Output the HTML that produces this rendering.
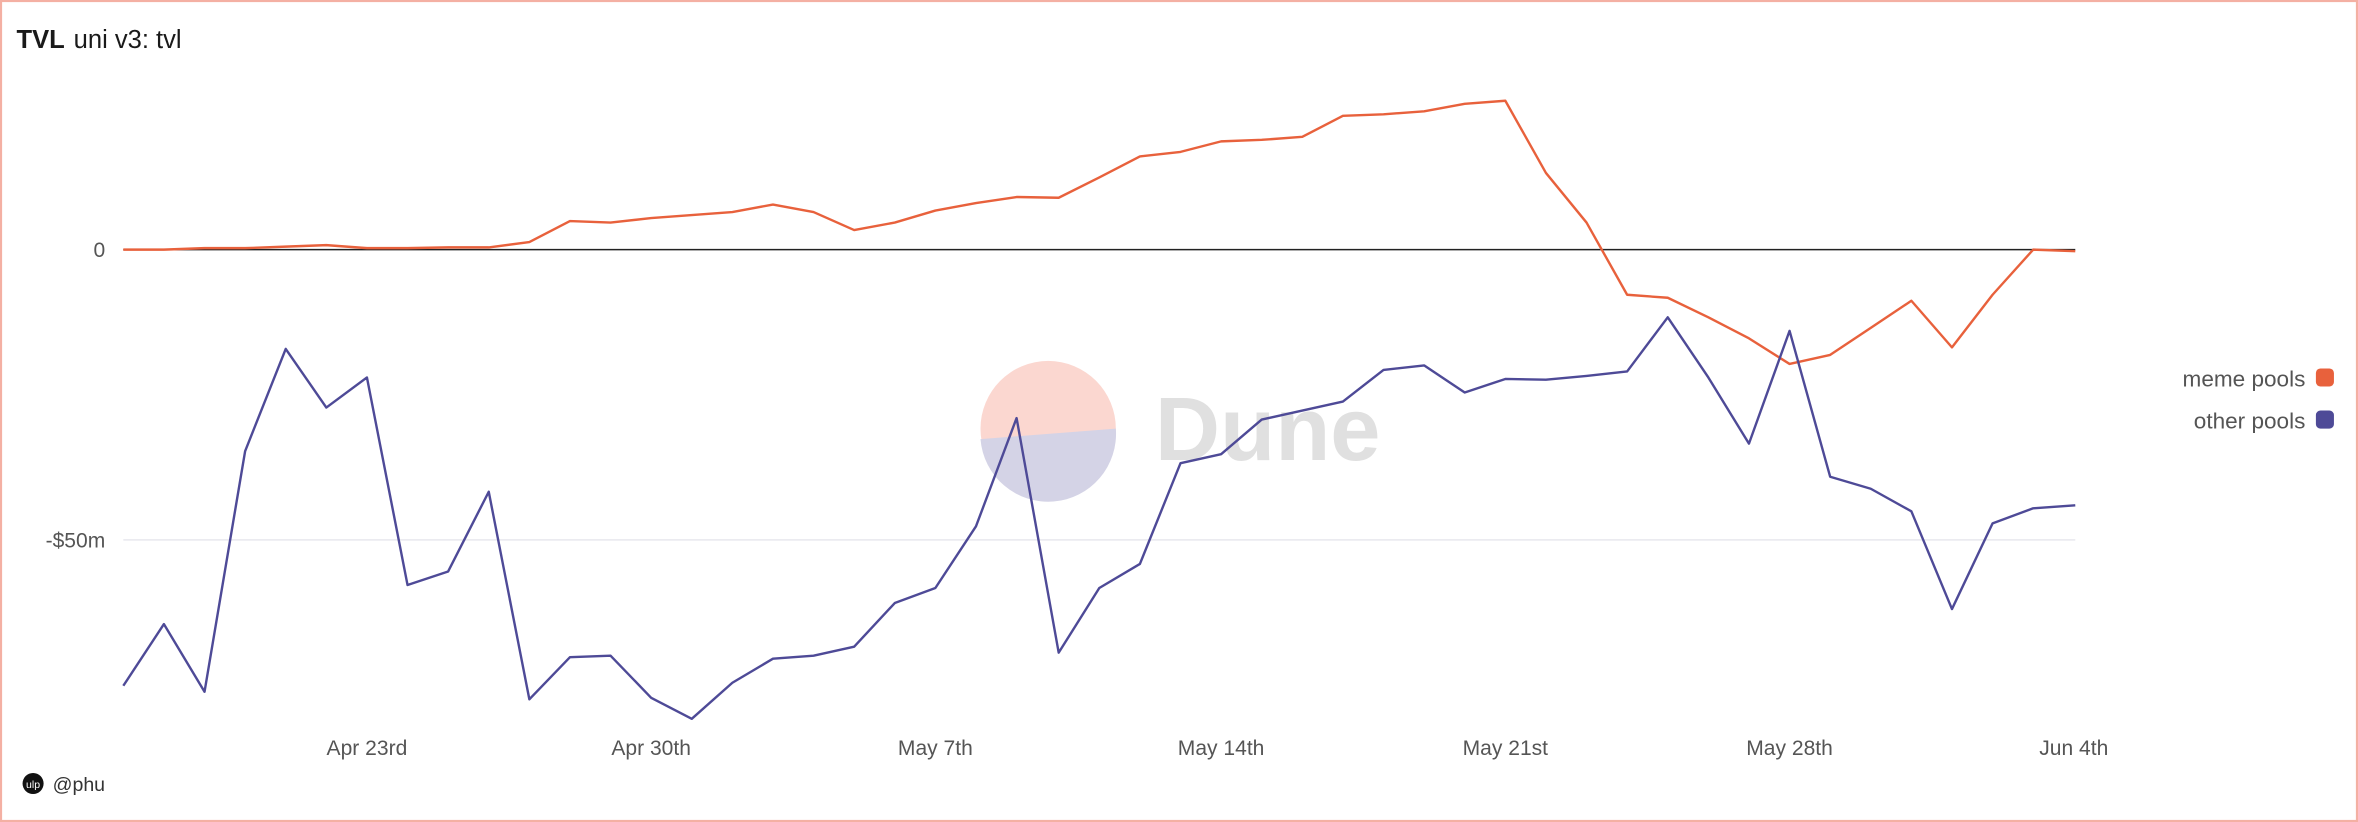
<!DOCTYPE html>
<html><head><meta charset="utf-8"><style>
html,body{margin:0;padding:0;background:#fff}
svg{display:block}
text{font-family:"Liberation Sans",sans-serif}
</style></head><body>
<svg width="2358" height="822" viewBox="0 0 1568 546.6" preserveAspectRatio="none" xmlns="http://www.w3.org/2000/svg">
<rect x="0.7" y="0.7" width="1566.6" height="545.2" fill="#fff" stroke="#f4b0a3" stroke-width="1.4"/>
<text x="11" y="32" font-size="17" font-weight="bold" fill="#1a1a1a">TVL</text>
<text x="49" y="32" font-size="17" fill="#1a1a1a">uni v3: tvl</text>
<line x1="82" y1="359" x2="1380" y2="359" stroke="#e8e8ee" stroke-width="1"/>
<text x="70" y="171" font-size="14" fill="#555" text-anchor="end">0</text>
<text x="70" y="364" font-size="14" fill="#555" text-anchor="end">-$50m</text>
<g font-size="14" fill="#555" text-anchor="middle">
<text x="244" y="502">Apr 23rd</text><text x="433" y="502">Apr 30th</text><text x="622" y="502">May 7th</text><text x="812" y="502">May 14th</text><text x="1001" y="502">May 21st</text><text x="1190" y="502">May 28th</text><text x="1379" y="502">Jun 4th</text>
</g>
<circle cx="697" cy="285" r="45" fill="#fbd7d0"/>
<path d="M652,292 A45,45 0 0 0 742,285 L742,285 Z" fill="#d4d3e6"/>
<text x="768" y="306" font-size="60" font-weight="bold" fill="#e0e0e0">Dune</text>
<line x1="82" y1="166" x2="1380" y2="166" stroke="#222" stroke-width="1"/>
<polyline fill="none" stroke="#e8613c" stroke-width="1.6" stroke-linejoin="round" points="82,166 109,166 136,165 163,165 190,164 217,163 244,165 271,165 298,164.5 325,164.5 352,161 379,147 406,148 433,145 460,143 487,141 514,136 541,141 568,153 595,148 622,140 649,135 676,131 704,131.5 731,118 758,104 785,101 812,94 839,93 866,91 893,77 920,76 947,74 974,69 1001,67 1028,115 1055,148 1082,196 1109,198 1136,211 1163,225 1190,242 1217,236 1244,218 1271,200 1298,231 1325,196 1352,166 1380,167"/>
<polyline fill="none" stroke="#4e4a97" stroke-width="1.6" stroke-linejoin="round" points="82,456 109,415 136,460 163,300 190,232 217,271 244,251 271,389 298,380 325,327 352,465 379,437 406,436 433,464 460,478 487,454 514,438 541,436 568,430 595,401 622,391 649,350 676,278 704,434 731,391 758,375 785,308 812,302 839,279 866,273 893,267 920,246 947,243 974,261 1001,252 1028,252.5 1055,250 1082,247 1109,211 1136,251 1163,295 1190,220 1217,317 1244,325 1271,340 1298,405 1325,348 1352,338 1380,336"/>
<text x="1533" y="257" font-size="15" fill="#555" text-anchor="end">meme pools</text>
<rect x="1540" y="245" width="12" height="12" rx="3" fill="#e8613c"/>
<text x="1533" y="285" font-size="15" fill="#555" text-anchor="end">other pools</text>
<rect x="1540" y="273" width="12" height="12" rx="3" fill="#4e4a97"/>
<circle cx="22" cy="521" r="7" fill="#111"/>
<text x="22" y="524" font-size="7" fill="#fff" text-anchor="middle">ulp</text>
<text x="35" y="526" font-size="13" fill="#333">@phu</text>
</svg>
</body></html>
